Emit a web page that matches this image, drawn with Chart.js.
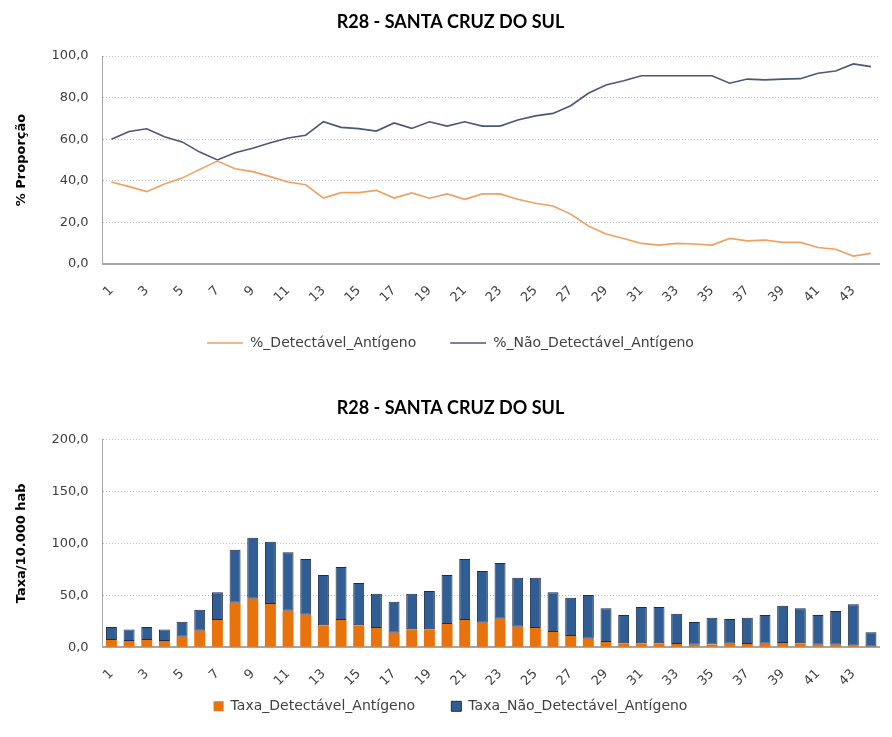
<!DOCTYPE html>
<html>
<head>
<meta charset="utf-8">
<script src="https://cdn.jsdelivr.net/npm/chart.js@4"></script>
<style>
  html, body { margin:0; padding:0; background:#fff; overflow:hidden; width:892px; height:737px; }
  .box { position:absolute; left:0; width:901px; }
  #b1 { top:0; height:360px; }
  #b2 { top:375px; height:348.3px; }
</style>
</head>
<body>
<div class="box" id="b1"><canvas id="c1"></canvas></div>
<div class="box" id="b2"><canvas id="c2"></canvas></div>
<script>
const categories = ['1','2','3','4','5','6','7','8','9','10','11','12','13','14','15','16','17','18','19','20','21','22','23','24','25','26','27','28','29','30','31','32','33','34','35','36','37','38','39','40','41','42','43','44'];

const chartTitle = 'R28 - SANTA CRUZ DO SUL';

const pctDetectavel = [39.4,37.2,34.8,38.5,41.3,45.5,49.5,45.8,44.4,42.0,39.4,38.1,31.7,34.3,34.3,35.4,31.7,34.2,31.6,33.7,31.1,33.7,33.7,31.1,29.2,27.9,24.0,18.3,14.4,12.3,9.9,9.1,9.9,9.6,9.1,12.3,11.1,11.5,10.4,10.4,7.9,7.1,3.8,5.1];
const pctNaoDetectavel = [60.0,63.7,65.0,61.2,58.7,53.8,50.0,53.5,55.6,58.3,60.6,61.9,68.4,65.7,65.1,63.9,67.8,65.2,68.4,66.3,68.4,66.3,66.3,69.2,71.2,72.4,76.1,82.1,86.1,88.1,90.5,90.5,90.5,90.5,90.5,86.9,88.9,88.5,88.9,89.1,91.7,92.8,96.2,94.9];

const taxaDetectavel = [7.0,6.1,7.0,6.1,10.2,16.0,26.3,42.9,46.7,41.6,35.2,31.4,21.2,26.3,21.2,18.6,14.1,17.3,17.3,22.4,26.3,23.7,27.5,19.8,18.6,14.7,10.9,8.3,5.1,3.8,3.8,3.8,3.2,2.4,2.6,3.3,3.2,3.3,4.2,3.9,2.5,2.5,1.6,0.7];
const taxaNaoDetectavel = [12.5,10.9,12.5,10.9,14.4,20.2,26.6,51.0,58.7,60.0,56.1,53.5,48.3,50.9,40.6,32.9,29.7,34.2,36.8,47.1,58.6,49.7,53.6,47.1,48.3,38.2,36.8,42.0,32.4,27.3,35.0,35.0,29.1,21.9,25.9,23.9,25.3,27.8,35.8,33.6,28.6,32.4,39.7,13.7];

const pctTicks = [0,20,40,60,80,100];
const taxaTicks = [0,50,100,150,200];

const fmt = v => Number(v).toFixed(1).replace('.', ',');
const FONT = 'DejaVu Sans';
const TXT = '#404040';

function xScale(h) {
  return {
    type: 'category',
    offset: true,
    grid: { display: false, drawTicks: false },
    border: { display: true, color: '#A6A6A6', width: 2 },
    ticks: {
      autoSkip: false, minRotation: 45, maxRotation: 45, padding: 19,
      color: TXT, font: { family: FONT, size: 13 },
      callback: function(v, i) { return i % 2 === 0 ? this.getLabelForValue(v) : ''; }
    },
    afterFit: s => { s.height = h; }
  };
}
function yScale(max, title, tickVals) {
  return {
    min: 0, max: max,
    afterBuildTicks: s => { s.ticks = tickVals.map(v => ({ value: v })); },
    grid: { color: '#BDBDBD', lineWidth: 1, drawTicks: false },
    border: { display: true, color: '#A6A6A6', width: 1, dash: [1, 2] },
    ticks: { padding: 14, color: TXT, font: { family: FONT, size: 13 }, callback: v => fmt(v) },
    title: { display: true, text: title, color: '#000', font: { family: FONT, size: 13, weight: 'bold' }, padding: { top: 14, bottom: 0 } },
    afterFit: s => { s.width = 102.6; }
  };
}
// extra gap after the first legend entry (Excel-like spacing)
function spacedLabels(chart) {
  const items = Chart.defaults.plugins.legend.labels.generateLabels(chart);
  if (items.length) items[0].text = items[0].text + '     ';
  return items;
}

new Chart(document.getElementById('c1'), {
  type: 'line',
  data: {
    labels: categories,
    datasets: [
      { label: '%_Detectável_Antígeno', data: pctDetectavel, borderColor: '#F0A060', backgroundColor: '#F0A060', borderWidth: 1.6, pointRadius: 0, tension: 0 },
      { label: '%_Não_Detectável_Antígeno', data: pctNaoDetectavel, borderColor: '#4A5877', backgroundColor: '#4A5877', borderWidth: 1.6, pointRadius: 0, tension: 0 }
    ]
  },
  options: {
    responsive: true, maintainAspectRatio: false, animation: false,
    layout: { padding: 0 },
    plugins: {
      title: { display: true, text: chartTitle, color: '#000', font: { family: 'Lato', size: 18, weight: 'bold' }, padding: { top: 11.2, bottom: 23.2 } },
      legend: {
        position: 'bottom',
        labels: { usePointStyle: true, pointStyle: 'line', pointStyleWidth: 36, padding: 34, color: TXT, font: { family: FONT, size: 14 } }
      },
      tooltip: { enabled: false }
    },
    scales: { x: xScale(38), y: yScale(100, '% Proporção', pctTicks) }
  }
});

new Chart(document.getElementById('c2'), {
  type: 'bar',
  data: {
    labels: categories,
    datasets: [
      { label: 'Taxa_Detectável_Antígeno', data: taxaDetectavel, backgroundColor: '#E8720C', borderWidth: 0, barPercentage: 0.62, categoryPercentage: 1 },
      { label: 'Taxa_Não_Detectável_Antígeno', data: taxaNaoDetectavel, backgroundColor: '#2F5D94', borderColor: '#1E2C47', borderWidth: 1, borderSkipped: false, barPercentage: 0.62, categoryPercentage: 1 }
    ]
  },
  options: {
    responsive: true, maintainAspectRatio: false, animation: false,
    layout: { padding: 0 },
    plugins: {
      title: { display: true, text: chartTitle, color: '#000', font: { family: 'Lato', size: 18, weight: 'bold' }, padding: { top: 22.2, bottom: 20.5 } },
      legend: {
        position: 'bottom',
        labels: { boxWidth: 10, boxHeight: 10, padding: 14, color: TXT, font: { family: FONT, size: 14 }, generateLabels: spacedLabels }
      },
      tooltip: { enabled: false }
    },
    scales: {
      x: Object.assign(xScale(38), { stacked: true }),
      y: Object.assign(yScale(200, 'Taxa/10.000 hab', taxaTicks), { stacked: true })
    }
  }
});
</script>
</body>
</html>
